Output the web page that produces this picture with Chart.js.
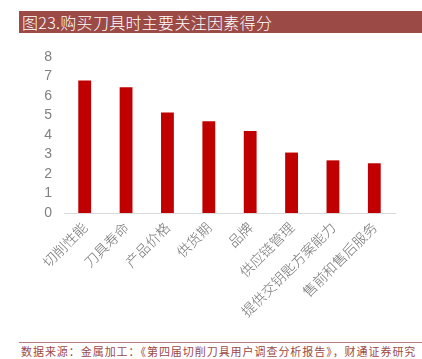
<!DOCTYPE html>
<html>
<head>
<meta charset="utf-8">
<script src="https://cdn.jsdelivr.net/npm/chart.js@4/dist/chart.umd.min.js"></script>
<style>
  body { margin: 0; background: #fff; width: 422px; height: 359px; overflow: hidden; position: relative; font-family: "Noto Sans CJK SC", sans-serif; }
  #title { position: absolute; left: 19px; top: 11px; width: 403px; height: 22px; background: #9b4a46; color: #fff; font-size: 16px; line-height: 22px; padding-left: 3px; box-sizing: border-box; font-weight: 300; letter-spacing: 0.3px; }
  #wrap { position: absolute; left: 0; top: 0; width: 422px; height: 340px; }
  #foot { position: absolute; left: 19px; top: 342px; width: 403px; border-top: 1px solid #b87a76; color: #9b4a46; font-size: 11px; letter-spacing: 0.95px; line-height: 16px; padding-left: 2px; box-sizing: border-box; white-space: nowrap; }
</style>
</head>
<body>
<div id="title">图23.购买刀具时主要关注因素得分</div>
<div id="wrap"><canvas id="canvas-1"></canvas></div>
<div id="foot">数据来源：金属加工：《第四届切削刀具用户调查分析报告》，财通证券研究</div>
<script>
const categories = ['切削性能', '刀具寿命', '产品价格', '供货期', '品牌', '供应链管理', '提供交钥匙方案能力', '售前和售后服务'];
const scores = [6.8, 6.45, 5.15, 4.7, 4.2, 3.1, 2.7, 2.55];
const yTicks = [0, 1, 2, 3, 4, 5, 6, 7, 8];

const barChart = new Chart(document.getElementById('canvas-1'), {
    type: 'bar',
    data: {
      labels: categories,
      datasets: [{
        data: scores,
        backgroundColor: '#c00000',
        barPercentage: 0.31,
        categoryPercentage: 1
      }]
    },
    options: {
      responsive: true,
      maintainAspectRatio: false,
      animation: false,
      layout: { padding: { top: 57, right: 27, left: 0, bottom: 0 } },
      plugins: { legend: { display: false }, tooltip: { enabled: false } },
      scales: {
        x: {
          grid: { display: false, drawTicks: false },
          border: { color: '#d9d9d9', width: 1 },
          ticks: { color: '#737373', font: { size: 14, family: 'Noto Sans CJK SC', weight: 300 }, minRotation: 45, maxRotation: 45, padding: 6 },
          afterFit: (s) => { s.height = 127; }
        },
        y: {
          min: 0, max: 8,
          afterBuildTicks: (s) => { s.ticks = yTicks.map(v => ({ value: v })); },
          grid: { display: false, drawTicks: false },
          border: { display: false },
          ticks: { color: '#808080', font: { size: 14, family: 'Liberation Sans' }, padding: 12, autoSkip: false },
          afterFit: (s) => { s.width = 64; }
        }
      }
    }
  });
</script>
</body>
</html>
